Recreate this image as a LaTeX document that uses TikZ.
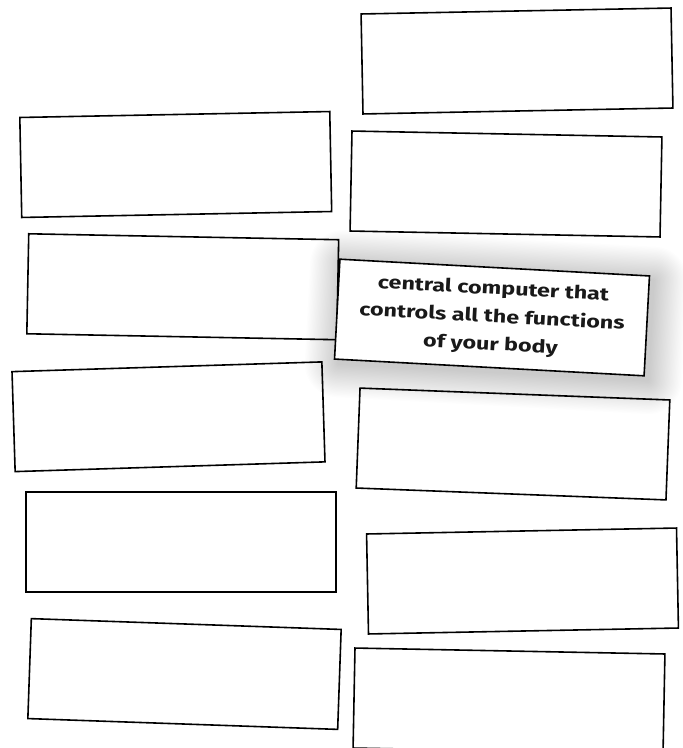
\documentclass[tikz,border=0pt]{standalone}
\usepackage{fontspec}
\setsansfont{Fira Sans}[FakeStretch=1.3]
\usepackage{tikz}

\begin{document}
\begin{tikzpicture}[
  x=1bp, y=-1bp,
  card/.style={draw=black, fill=white, line width=1.6pt,
               minimum width=310bp, minimum height=100bp, inner sep=0pt},
  textcard/.style={card, font=\sffamily\bfseries\fontsize{18}{28}\selectfont,
                   align=center, text=black!90},
  haze/.style={fill=black, opacity=0.0075}
]
\clip (0,0) rectangle (683,748);
\fill[white] (0,0) rectangle (683,748);

% right column
\node[card, rotate=1.1]  (brainA) at (517,61)    {};
\node[card, rotate=-1.1] (brainB) at (506,184)   {};
\node[card, rotate=-2.2] (brainD) at (513,444)   {};
\node[card, rotate=1.1]  (brainE) at (522.5,581) {};
\node[card, rotate=-1.1] (brainF) at (509,701)   {};

% left column
\node[card, rotate=1.1]  (termA) at (175.75,164.5) {};
\node[card, rotate=-1.1] (termB) at (182.75,286.75) {};
\node[card, rotate=1.8]  (termC) at (168.5,416.75) {};
\node[card]              (termD) at (181,542)      {};
\node[card, rotate=-2.0] (termE) at (184.5,674)    {};

% soft shadow under the filled-in card
\begin{scope}[rotate around={-3.1:(496,322)}]
  \foreach \k in {1,...,26}
    \fill[haze, rounded corners=\k*1.3bp]
      (496-155-\k*1.3, 322-50-\k*1.3) rectangle (496+155+\k*1.3, 322+50+\k*1.3);
\end{scope}

% the filled-in card on top
\node[textcard, rotate=-3.1] (brainC) at (492,317.5)
  {central computer that\\controls all the functions\\of your body};

\end{tikzpicture}
\end{document}
